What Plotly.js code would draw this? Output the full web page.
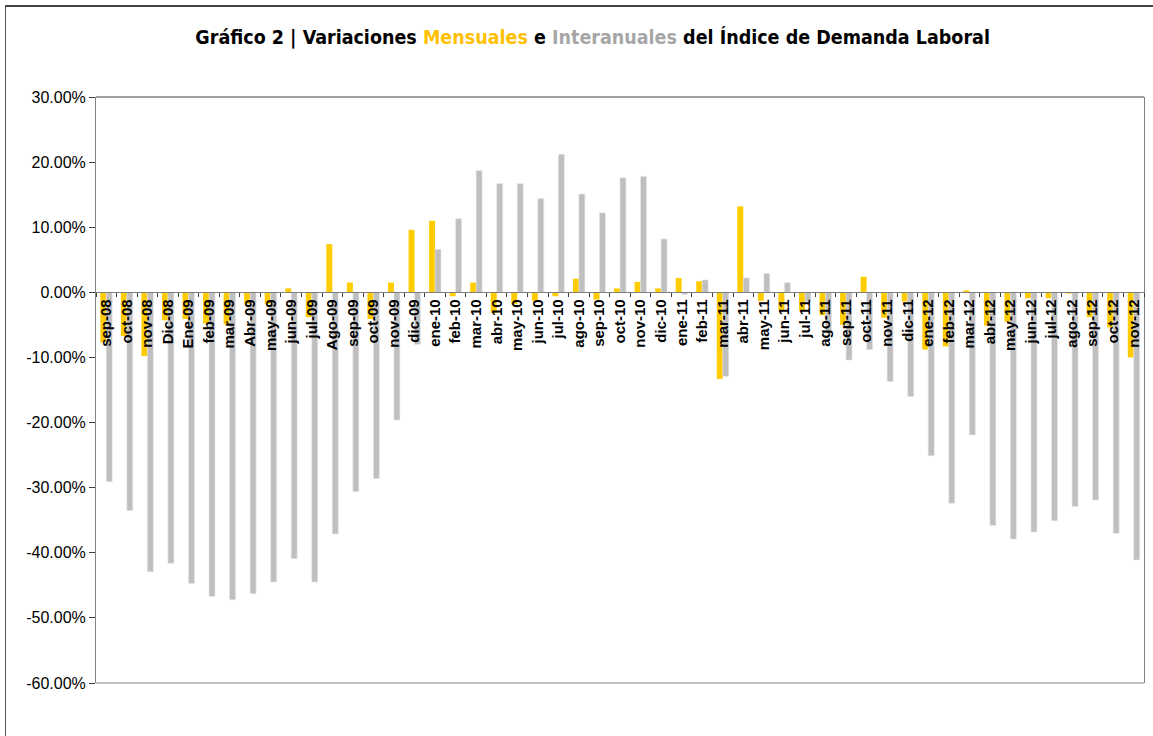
<!DOCTYPE html>
<html>
<head>
<meta charset="utf-8">
<script src="https://cdn.plot.ly/plotly-3.0.1.min.js"></script>
<style>
  html, body { margin: 0; padding: 0; background: #fff; }
  #frame { position: absolute; left: 5px; top: 5px; width: 1200px; height: 800px; border-left: 1px solid #555; border-top: 2px solid #444; }
  #chart { position: absolute; left: 0; top: 0; width: 1153px; height: 736px; }
</style>
</head>
<body>
<div id="frame"></div>
<div id="chart"></div>
<script>
const categories = ["sep-08","oct-08","nov-08","Dic-08","Ene-09","feb-09","mar-09","Abr-09","may-09","jun-09","jul-09","Ago-09","sep-09","oct-09","nov-09","dic-09","ene-10","feb-10","mar-10","abr-10","may-10","jun-10","jul-10","ago-10","sep-10","oct-10","nov-10","dic-10","ene-11","feb-11","mar-11","abr-11","may-11","jun-11","jul-11","ago-11","sep-11","oct-11","nov-11","dic-11","ene-12","feb-12","mar-12","abr-12","may-12","jun-12","jul-12","ago-12","sep-12","oct-12","nov-12"];

const mensual = [-7.7,-6.7,-9.8,-4.3,-4.1,-4.8,-4.9,-1.8,-1.8,0.6,-3.8,7.4,1.5,-4.1,1.5,9.6,11.0,-0.6,1.5,-3.2,-1.8,-1.3,-0.6,2.1,-1.1,0.6,1.6,0.6,2.2,1.7,-13.3,13.2,-1.3,-2.7,-2.8,-3.5,-5.0,2.4,-3.9,-1.4,-8.8,-8.3,0.3,-5.1,-4.5,-0.9,-0.9,-0.2,-3.8,-5.4,-10.0];

const interanual = [-29.1,-33.5,-42.9,-41.6,-44.7,-46.7,-47.2,-46.3,-44.5,-40.9,-44.5,-37.1,-30.6,-28.6,-19.6,-8.0,6.6,11.3,18.7,16.7,16.7,14.4,21.2,15.1,12.2,17.6,17.8,8.2,-0.3,1.9,-12.9,2.2,2.9,1.5,-1.4,-6.3,-10.4,-8.8,-13.7,-16.0,-25.1,-32.4,-21.9,-35.8,-37.9,-36.8,-35.1,-32.9,-31.9,-37.0,-41.1];

const yTicks = [-60,-50,-40,-30,-20,-10,0,10,20,30];
const yTickText = yTicks.map(v => v.toFixed(2) + '%');

const traces = [
  {
    type: 'bar', name: 'Mensual', x: categories, y: mensual,
    marker: { color: '#FFCC00', line: { width: 0 } },
    hoverinfo: 'x+y'
  },
  {
    type: 'bar', name: 'Interanual', x: categories, y: interanual,
    marker: { color: '#BFBFBF', line: { width: 0.6, color: '#E6E6E6' } },
    hoverinfo: 'x+y'
  }
];

const layout = {
  width: 1153, height: 736,
  paper_bgcolor: 'rgba(0,0,0,0)', plot_bgcolor: 'rgba(0,0,0,0)',
  margin: { l: 96, r: 9, t: 97, b: 53 },
  showlegend: false,
  barmode: 'group', bargap: 0.42, bargroupgap: 0,
  title: {
    text: 'Gráfico 2 | Variaciones <span style="color:#FFC000">Mensuales</span> e <span style="color:#A6A6A6">Interanuales</span> del Índice de Demanda Laboral',
    font: { family: '"Liberation Sans Narrow", "DejaVu Sans Condensed", sans-serif', size: 19.5, color: '#000', weight: 'bold' },
    xref: 'container', x: 0.514, xanchor: 'center',
    yref: 'container', y: 0.95, yanchor: 'middle'
  },
  xaxis: {
    type: 'category', range: [-0.5, categories.length - 0.5],
    anchor: 'free', position: 2/3,
    showline: true, linecolor: '#808080', linewidth: 1,
    ticks: 'outside', tickson: 'boundaries', ticklen: 4, tickcolor: '#404040',
    tickangle: -90,
    tickfont: { family: '"Liberation Sans", Arial, sans-serif', size: 15, color: '#000', weight: 'bold' },
    showgrid: false, zeroline: false, automargin: false, fixedrange: true
  },
  yaxis: {
    range: [-60, 30], tickmode: 'array', tickvals: yTicks, ticktext: yTickText,
    showline: true, mirror: true, linecolor: '#808080', linewidth: 1,
    ticks: 'outside', ticklen: 6, tickcolor: '#404040',
    tickfont: { family: '"Liberation Sans", Arial, sans-serif', size: 16, color: '#000' },
    showgrid: false, zeroline: false, automargin: false, fixedrange: true
  },
  shapes: [
    { type: 'line', xref: 'paper', yref: 'paper', x0: 0, x1: 1, y0: 1, y1: 1, line: { color: '#404040', width: 1 } },
    { type: 'line', xref: 'paper', yref: 'paper', x0: 0, x1: 1, y0: 0, y1: 0, line: { color: '#808080', width: 1 } }
  ]
};

Plotly.newPlot('chart', traces, layout, { displayModeBar: false, staticPlot: true });
</script>
</body>
</html>
